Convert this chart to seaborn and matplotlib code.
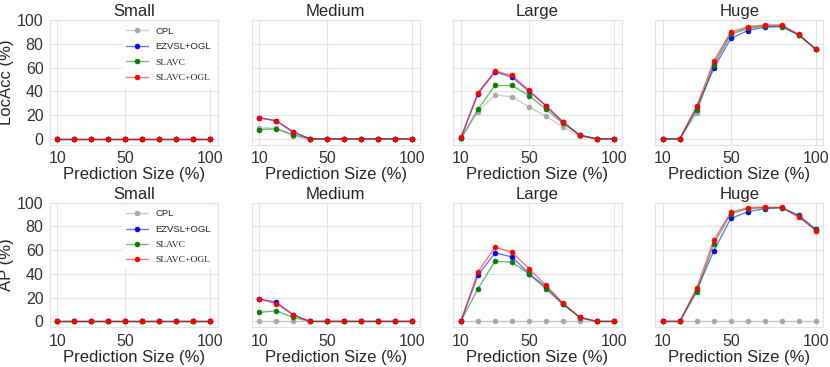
import matplotlib
matplotlib.use("Agg")
import matplotlib.pyplot as plt
import seaborn as sns
import pandas as pd
from matplotlib.colors import to_rgba

# prediction sizes on the x axis
sizes = [10, 20, 30, 40, 50, 60, 70, 80, 90, 100]
groups = ["Small", "Medium", "Large", "Huge"]
methods = ["CPL", "EZVSL+OGL", "SLAVC", "SLAVC+OGL"]
colors = ["#a8a8a8", "blue", "green", "red"]
zeros = [0, 0, 0, 0, 0, 0, 0, 0, 0, 0]

# LocAcc (%)
loc_medium_cpl = [9.2, 9.2, 2.0, 0, 0, 0, 0, 0, 0, 0]
loc_medium_ezvsl = [17.6, 15.4, 5.9, 0, 0, 0, 0, 0, 0, 0]
loc_medium_slavc = [7.8, 8.4, 3.6, 0, 0, 0, 0, 0, 0, 0]
loc_medium_slavc_ogl = [18.0, 15.0, 5.6, 0, 0, 0, 0, 0, 0, 0]

loc_large_cpl = [0.5, 23.0, 37.0, 35.5, 27.0, 19.0, 10.0, 2.0, 0, 0]
loc_large_ezvsl = [1.0, 38.0, 56.5, 52.0, 40.0, 27.7, 14.0, 3.0, 0, 0]
loc_large_slavc = [0.5, 25.0, 45.0, 45.0, 36.5, 25.0, 13.0, 3.0, 0, 0]
loc_large_slavc_ogl = [1.4, 39.0, 57.0, 53.5, 41.0, 28.0, 14.5, 3.0, 0, 0]

loc_huge_cpl = [0, 0, 21.6, 63.6, 89.0, 93.5, 95.5, 95.0, 87.5, 75.6]
loc_huge_ezvsl = [0, 0, 26.6, 59.4, 84.6, 91.3, 94.0, 95.0, 87.7, 75.6]
loc_huge_slavc = [0, 0, 24.4, 62.0, 88.0, 93.0, 95.0, 94.4, 87.4, 75.6]
loc_huge_slavc_ogl = [0, 0, 27.7, 65.5, 90.0, 94.4, 96.0, 96.0, 88.0, 75.6]

# AP (%)
ap_medium_ezvsl = [18.9, 16.3, 5.6, 0, 0, 0, 0, 0, 0, 0]
ap_medium_slavc = [7.6, 9.0, 3.4, 0, 0, 0, 0, 0, 0, 0]
ap_medium_slavc_ogl = [18.9, 15.0, 5.4, 0, 0, 0, 0, 0, 0, 0]

ap_large_ezvsl = [0.5, 38.9, 57.7, 54.4, 40.3, 29.0, 14.6, 3.4, 0, 0]
ap_large_slavc = [0.5, 27.6, 50.7, 49.9, 40.0, 27.3, 14.4, 3.1, 0, 0]
ap_large_slavc_ogl = [0.5, 41.7, 62.5, 58.3, 44.5, 30.4, 15.5, 3.4, 0, 0]

ap_huge_ezvsl = [0, 0, 26.8, 59.4, 86.8, 92.4, 95.0, 95.8, 89.6, 77.7]
ap_huge_slavc = [0, 0, 24.8, 65.4, 90.7, 95.0, 95.8, 95.8, 88.5, 77.2]
ap_huge_slavc_ogl = [0, 0, 28.2, 68.5, 92.0, 95.8, 96.3, 96.0, 88.0, 76.6]

loc_data = {
    "Small": [zeros, zeros, zeros, zeros],
    "Medium": [loc_medium_cpl, loc_medium_ezvsl, loc_medium_slavc, loc_medium_slavc_ogl],
    "Large": [loc_large_cpl, loc_large_ezvsl, loc_large_slavc, loc_large_slavc_ogl],
    "Huge": [loc_huge_cpl, loc_huge_ezvsl, loc_huge_slavc, loc_huge_slavc_ogl],
}
ap_data = {
    "Small": [zeros, zeros, zeros, zeros],
    "Medium": [zeros, ap_medium_ezvsl, ap_medium_slavc, ap_medium_slavc_ogl],
    "Large": [zeros, ap_large_ezvsl, ap_large_slavc, ap_large_slavc_ogl],
    "Huge": [zeros, ap_huge_ezvsl, ap_huge_slavc, ap_huge_slavc_ogl],
}

sns.set_style("whitegrid", {"grid.color": "#e3e3e3", "axes.edgecolor": "#e3e3e3"})
plt.rcParams["font.family"] = ["Liberation Sans", "DejaVu Sans"]

fig, axes = plt.subplots(2, 4, figsize=(8.3, 3.67), dpi=100, sharey="row")
fig.subplots_adjust(left=0.06, right=0.992, top=0.945, bottom=0.108,
                    wspace=0.2, hspace=0.465)

for row, (data, ylab) in enumerate([(loc_data, "LocAcc (%)"), (ap_data, "AP (%)")]):
    for col, g in enumerate(groups):
        ax = axes[row, col]
        for m, c, vals in zip(methods, colors, data[g]):
            sns.lineplot(x=sizes, y=vals, ax=ax, color=to_rgba(c, 0.55),
                         marker="o", markersize=3.6, linewidth=1,
                         markerfacecolor=c, markeredgecolor=c,
                         markeredgewidth=0.4, label=m)
        ax.set_title(g, fontsize=12, pad=3)
        ax.set_xlabel("Prediction Size (%)", fontsize=12, labelpad=1)
        ax.set_ylim(-5, 100)
        ax.set_xticks([10, 50, 100])
        ax.set_yticks([0, 20, 40, 60, 80, 100])
        ax.tick_params(labelsize=11.5, pad=1, colors="#333333")
        if col == 0:
            ax.set_ylabel(ylab, fontsize=12, labelpad=2)
            leg = ax.legend(loc="upper right", fontsize=6.8, frameon=True,
                            edgecolor="white", framealpha=1, handlelength=2.4,
                            borderaxespad=0.3, labelspacing=0.7)
            for t in leg.get_texts():
                if t.get_text().startswith("SLAVC"):
                    t.set_family(["Liberation Serif", "DejaVu Serif"])
        else:
            ax.set_ylabel("")
            ax.get_legend().remove()

plt.savefig("out.png", dpi=100)
